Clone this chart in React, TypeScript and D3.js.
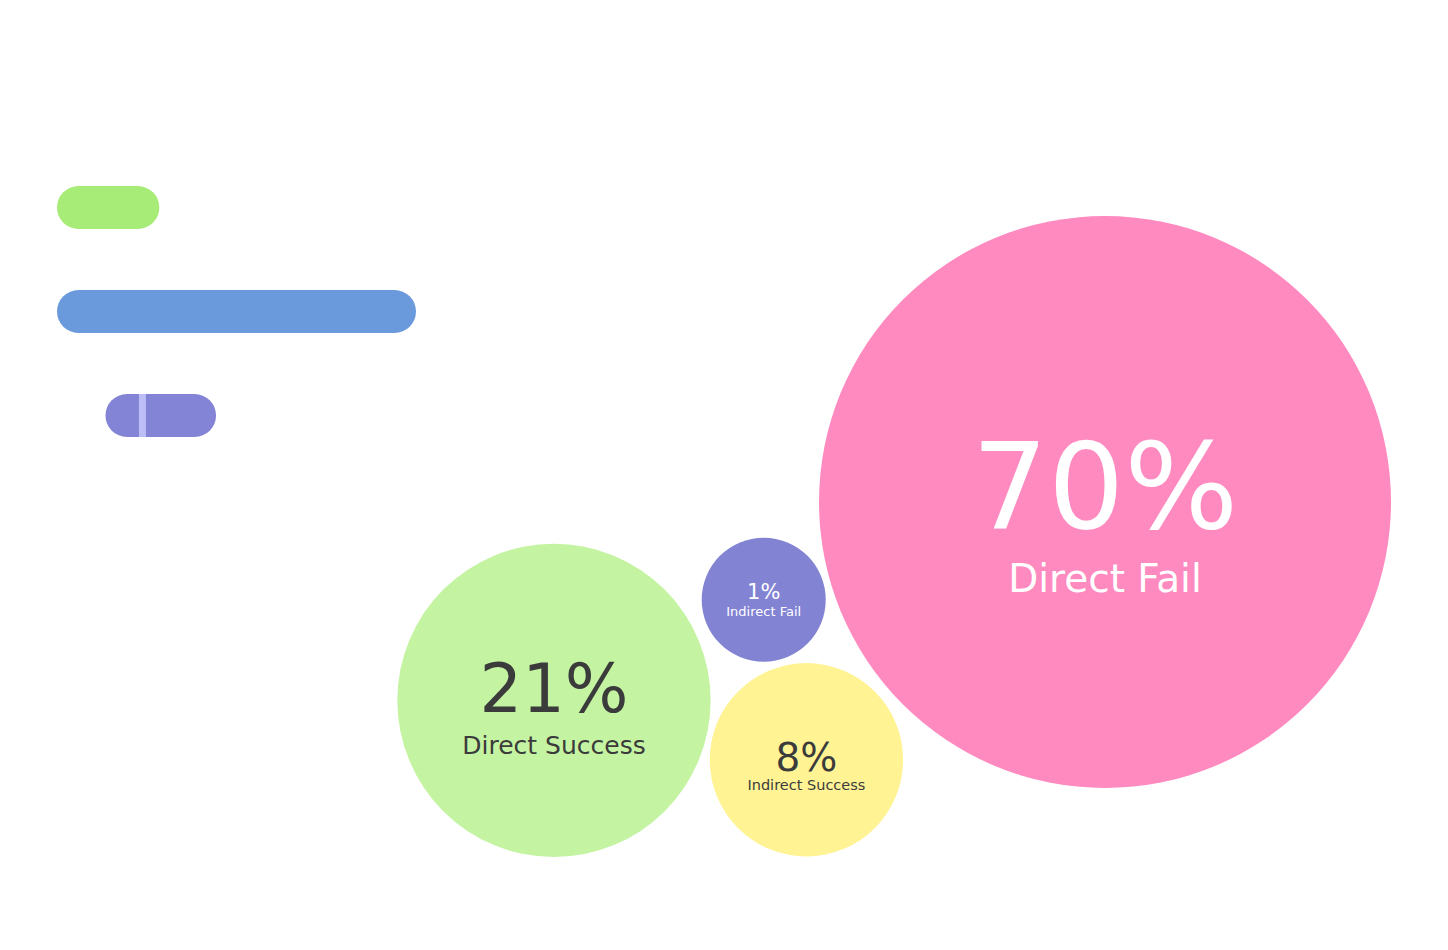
import React, { useEffect, useRef } from 'react';
import * as d3 from 'd3';

// bubble data
const bubbleNames = ['Direct Fail', 'Direct Success', 'Indirect Fail', 'Indirect Success'];
const bubbleShares = [70, 21, 1, 8];

// bar data (arbitrary units, 0-100)
const barNames = ['Success', 'Total', 'Indirect'];
const barStarts = [0, 0, 13.5];
const barEnds = [28.5, 100, 44.3];
const barMarkers = [null, null, 23.8];

const W = 1448;
const H = 950;

const bubbleColor = {
  'Direct Fail': '#ff8ac0',
  'Direct Success': '#c4f4a2',
  'Indirect Fail': '#8383d4',
  'Indirect Success': '#fff394',
};
const barColor = { Success: '#a8ec78', Total: '#6a9adc', Indirect: '#8484d6' };

// text sizes / offsets per bubble
const textStyle = {
  'Direct Fail': { pct: 120, lab: 39, pctDy: 26, labDy: 90, fill: '#ffffff' },
  'Direct Success': { pct: 67, lab: 25, pctDy: 12, labDy: 54, fill: '#3b3b3b' },
  'Indirect Fail': { pct: 21, lab: 13, pctDy: -1, labDy: 16.5, fill: '#ffffff' },
  'Indirect Success': { pct: 39, lab: 14.5, pctDy: 11, labDy: 30, fill: '#3b3b3b' },
};

// intersection of two circles, pick upper or lower one
function meet(a, ra, b, rb, pickLower) {
  const dx = b.x - a.x;
  const dy = b.y - a.y;
  const d = Math.hypot(dx, dy);
  const t = (ra * ra - rb * rb + d * d) / (2 * d);
  const h = Math.sqrt(Math.max(0, ra * ra - t * t));
  const ux = dx / d;
  const uy = dy / d;
  const bx = a.x + t * ux;
  const by = a.y + t * uy;
  const p1 = { x: bx - h * uy, y: by + h * ux };
  const p2 = { x: bx + h * uy, y: by - h * ux };
  if (pickLower) return p1.y > p2.y ? p1 : p2;
  return p1.y < p2.y ? p1 : p2;
}

const App = () => {
  const svgRef = useRef(null);

  useEffect(() => {
    const svg = d3.select(svgRef.current);
    svg.selectAll('*').remove();

    // ---- bars
    const x = d3.scaleLinear().domain([0, 100]).range([57, 416]);
    const y = d3.scaleBand().domain(barNames).range([186, 437]).paddingInner(0.587).paddingOuter(0);
    const bh = y.bandwidth();

    const bars = barNames.map((name, i) => ({
      name,
      start: barStarts[i],
      end: barEnds[i],
      marker: barMarkers[i],
    }));

    svg
      .append('g')
      .selectAll('rect')
      .data(bars)
      .join('rect')
      .attr('x', (d) => x(d.start))
      .attr('y', (d) => y(d.name))
      .attr('width', (d) => x(d.end) - x(d.start))
      .attr('height', bh)
      .attr('rx', bh / 2)
      .attr('fill', (d) => barColor[d.name]);

    svg
      .append('g')
      .selectAll('rect')
      .data(bars.filter((d) => d.marker != null))
      .join('rect')
      .attr('x', (d) => x(d.marker) - 3.5)
      .attr('y', (d) => y(d.name))
      .attr('width', 7)
      .attr('height', bh)
      .attr('fill', '#bdbdf8');

    // ---- bubbles
    const rScale = d3.scaleSqrt().domain([0, 70]).range([0, 286]);
    const radius = (v) => Math.max(62, rScale(v));

    const nodes = bubbleNames.map((name, i) => ({ name, value: bubbleShares[i], r: radius(bubbleShares[i]) }));
    const [big, second, tiny, small] = nodes;

    // largest anchored top-right
    big.x = 1391 - big.r;
    big.y = 216 + big.r;
    // second down-left of it
    const ang = (160.2 * Math.PI) / 180;
    const dist = big.r + second.r + 143;
    second.x = big.x + dist * Math.cos(ang);
    second.y = big.y + dist * Math.sin(ang);
    // tiny one sits between them, slightly above
    Object.assign(tiny, meet(big, big.r + tiny.r + 7, second, second.r + tiny.r + 14, false));
    // small one tucked below
    Object.assign(small, meet(second, second.r + small.r + 6, tiny, tiny.r + small.r + 7, true));

    const g = svg.append('g').selectAll('g').data(nodes).join('g');

    g.append('circle')
      .attr('cx', (d) => d.x)
      .attr('cy', (d) => d.y)
      .attr('r', (d) => d.r)
      .attr('fill', (d) => bubbleColor[d.name]);

    g.append('text')
      .attr('x', (d) => d.x)
      .attr('y', (d) => d.y + textStyle[d.name].pctDy)
      .attr('text-anchor', 'middle')
      .attr('font-family', '"DejaVu Sans", sans-serif')
      .attr('font-size', (d) => textStyle[d.name].pct)
      .attr('fill', (d) => textStyle[d.name].fill)
      .text((d) => `${d.value}%`);

    g.append('text')
      .attr('x', (d) => d.x)
      .attr('y', (d) => d.y + textStyle[d.name].labDy)
      .attr('text-anchor', 'middle')
      .attr('font-family', '"DejaVu Sans", sans-serif')
      .attr('font-size', (d) => textStyle[d.name].lab)
      .attr('fill', (d) => textStyle[d.name].fill)
      .text((d) => d.name);
  }, []);

  return (
    <svg
      ref={svgRef}
      width={W}
      height={H}
      style={{ position: 'absolute', left: 0, top: 0, background: '#ffffff' }}
    />
  );
};

export default App;
